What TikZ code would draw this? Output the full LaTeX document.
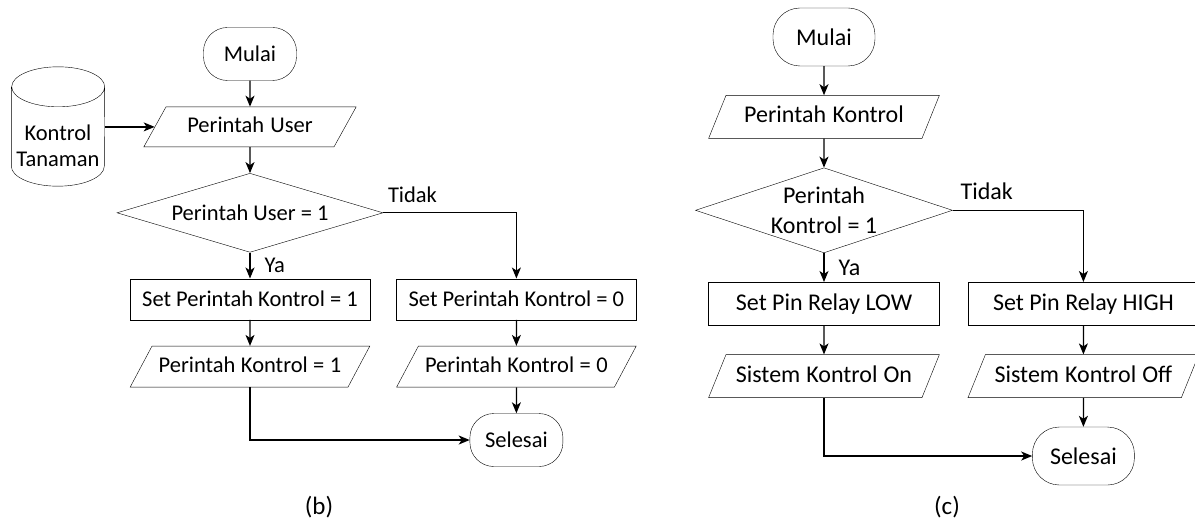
\documentclass[tikz,border=0pt]{standalone}
\usepackage{fontspec}
\setmainfont{Carlito}
\usetikzlibrary{positioning, arrows.meta, shapes.geometric}
\tikzset{
	node distance = 26pt,
	line width = 1pt,
	>={Stealth[length=11pt, width=9pt, inset=3pt]},
	terminal/.style={
		draw,
		rectangle,
		rounded corners=24pt,
		minimum width=93pt,
		minimum height=53pt,
		inner sep=0pt
	},
	io/.style={
		draw,
		trapezium,
		trapezium left angle=62,
		trapezium right angle=118,
		text width=196pt,
		align=center,
		execute at begin node={\spaceskip=0pt\xspaceskip=0pt\relax},
		text height=16pt,
		text depth=5pt,
		inner xsep=0pt,
		inner ysep=10pt
	},
	process/.style={
		draw,
		rectangle,
		minimum width=240pt,
		minimum height=41pt,
		inner sep=0pt
	},
	decision/.style={
		draw,
		diamond,
		aspect=3,
		inner sep=-5pt,
		minimum width=266pt,
		minimum height=79pt,
		align=center
	},
	database/.style={
		minimum width=93pt,
		minimum height=80pt,
		inner sep=0pt,
		align=center
	},
	flow/.style={
		->,
		line width=1.3pt
	},
	answer/.style={
		inner sep=2pt
	}
}

\begin{document}
\begin{tikzpicture}[x=1pt, y=1pt]
\useasboundingbox (0,0) rectangle (1195,-521);

% (b)
\begin{scope}[font=\fontsize{22.5}{26}\selectfont]
\node[terminal] (mulaiB) at (250,-54) {Mulai};
\node[io, below=of mulaiB, text width=168pt, trapezium left angle=61, trapezium right angle=119, inner ysep=9.5pt] (userB) {Perintah User};
\node[database] (dbB) at (58,-146) {Kontrol\\Tanaman};
\node[decision, below=of userB] (cekB) {Perintah User = 1};
\node[process, below=of cekB] (setB1) {Set Perintah Kontrol = 1};
\node[process, right=of setB1] (setB0) {Set Perintah Kontrol = 0};
\node[io, below=of setB1] (outB1) {Perintah Kontrol = 1};
\node[io, below=of setB0] (outB0) {Perintah Kontrol = 0};
\node[terminal, below=of outB0] (endB) {Selesai};
\node[font=\fontsize{25}{30}\selectfont] (capB) at (319,-507) {(b)};

\draw ([yshift=19pt]dbB.north west) -- ([yshift=20pt]dbB.south west)
	arc[start angle=180, end angle=360, x radius=46.5pt, y radius=20pt]
	-- ([yshift=19pt]dbB.north east)
	arc[start angle=0, end angle=360, x radius=46.5pt, y radius=20pt];

\draw[flow] (mulaiB) -- (userB);
\draw[flow] (userB.west -| dbB.east) -- (userB.west);
\draw[flow] (userB) -- (cekB);
\draw[flow] (cekB) -- node[answer, right=12pt] {Ya} (setB1);
\draw[flow] (cekB.east) -| node[answer, pos=0.11, above=7pt] {Tidak} (setB0);
\draw[flow] (setB1) -- (outB1);
\draw[flow] (setB0) -- (outB0);
\draw[flow] (outB0) -- (endB);
\draw[flow] (outB1.south) |- (endB.west);
\end{scope}

% (c)
\begin{scope}[font=\fontsize{24}{30}\selectfont, node distance=29pt,
	terminal/.append style={minimum width=102pt, minimum height=58pt, rounded corners=27pt},
	io/.append style={trapezium left angle=68, trapezium right angle=112, text height=17pt, inner ysep=10.5pt},
	process/.append style={minimum width=231pt, minimum height=43pt},
	decision/.append style={minimum width=257pt, minimum height=85pt}]
\node[terminal] (mulaiC) at (824,-37) {Mulai};
\node[io, below=of mulaiC] (cmdC) {Perintah Kontrol};
\node[decision, below=of cmdC] (cekC) {Perintah\\Kontrol = 1};
\node[process, below=of cekC] (setC1) {Set Pin Relay LOW};
\node[process, right=28pt of setC1] (setC0) {Set Pin Relay HIGH};
\node[io, below=of setC1] (outC1) {Sistem Kontrol On};
\node[io, below=of setC0] (outC0) {Sistem Kontrol Off};
\node[terminal, below=of outC0] (endC) {Selesai};
\node[font=\fontsize{25}{30}\selectfont] (capC) at (947,-507) {(c)};

\draw[flow] (mulaiC) -- (cmdC);
\draw[flow] (cmdC) -- (cekC);
\draw[flow] (cekC) -- node[answer, right=12pt] {Ya} (setC1);
\draw[flow] (cekC.east) -| node[answer, pos=0.13, above=8pt] {Tidak} (setC0);
\draw[flow] (setC1) -- (outC1);
\draw[flow] (setC0) -- (outC0);
\draw[flow] (outC0) -- (endC);
\draw[flow] (outC1.south) |- (endC.west);
\end{scope}
\end{tikzpicture}
\end{document}
